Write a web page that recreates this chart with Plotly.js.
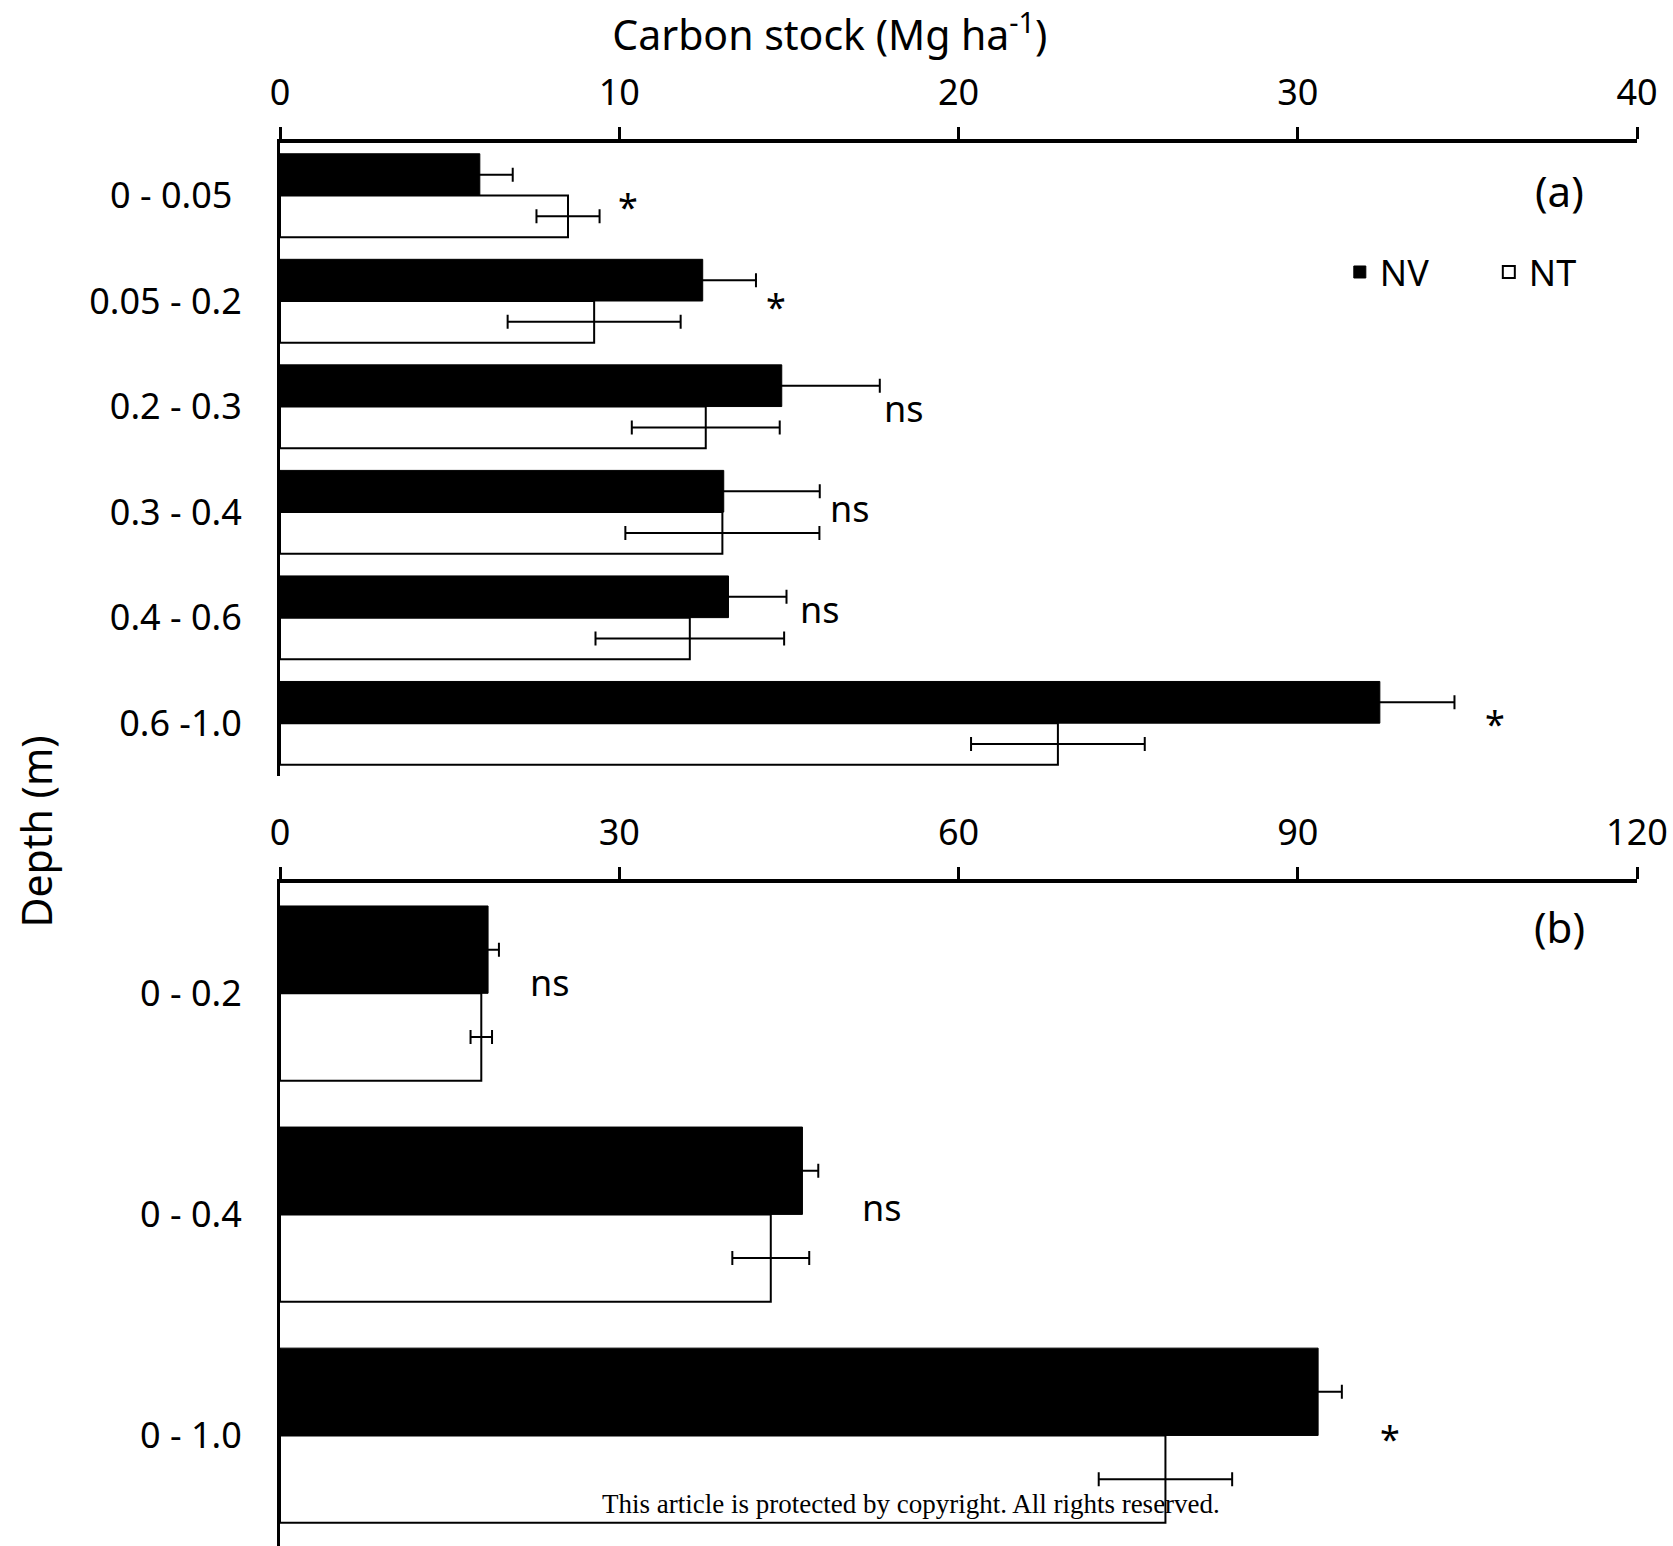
<!DOCTYPE html>
<html>
<head>
<meta charset="utf-8">
<script src="https://cdn.plot.ly/plotly-3.0.1.min.js"></script>
<style>html,body{margin:0;padding:0;background:#fff;}#chart{width:1673px;height:1546px;}</style>
</head>
<body>
<div id="chart"></div>
<script>
// ---- Panel (a): carbon stock by depth layer (Mg ha-1) ----
const depthA = ['0 - 0.05', '0.05 - 0.2', '0.2 - 0.3', '0.3 - 0.4', '0.4 - 0.6', '0.6 -1.0'];
const depthATickText = ['0 - 0.05\u00a0', '0.05 - 0.2', '0.2 - 0.3', '0.3 - 0.4', '0.4 - 0.6', '0.6 -1.0'];
const nvA = [5.89, 12.46, 14.79, 13.08, 13.22, 32.42];
const nvAErr = [0.97, 1.57, 2.89, 2.83, 1.71, 2.2];
const ntA = [8.49, 9.26, 12.55, 13.04, 12.08, 22.93];
const ntAErr = [0.93, 2.55, 2.18, 2.86, 2.78, 2.56];
const sigA = ['*', '*', 'ns', 'ns', 'ns', '*'];
const sigAX = [10.25, 14.61, 18.38, 16.81, 15.93, 35.81];
const sigAY = [0.06, 1.0, 2.02, 2.97, 3.92, 4.96];
const ticksA = [0, 10, 20, 30, 40];

// ---- Panel (b): cumulative carbon stock ----
const depthB = ['0 - 0.2', '0 - 0.4', '0 - 1.0'];
const nvB = [18.4, 46.2, 91.8];
const nvBErr = [0.96, 1.4, 2.1];
const ntB = [17.8, 43.4, 78.3];
const ntBErr = [0.95, 3.4, 5.9];
const sigB = ['ns', 'ns', '*'];
const sigBX = [23.9, 53.2, 98.2];
const sigBY = [-0.05, 0.97, 1.99];
const ticksB = [0, 30, 60, 90, 120];

const FONT = 'Noto Sans, Open Sans, DejaVu Sans, sans-serif';

function barTrace(name, x, y, err, xa, ya, fill, showLegend) {
  return {
    type: 'bar', orientation: 'h', name: name,
    x: x, y: y, xaxis: xa, yaxis: ya,
    marker: {color: fill, line: {color: '#000', width: fill === '#000' ? 1 : 2}},
    error_x: {type: 'data', array: err, visible: true, color: '#000', thickness: 2, width: 7},
    showlegend: showLegend, legendgroup: name, hoverinfo: 'x+y'
  };
}

const data = [
  barTrace('NV', nvA, depthA, nvAErr, 'x', 'y', '#000', true),
  barTrace('NT', ntA, depthA, ntAErr, 'x', 'y', '#fff', true),
  barTrace('NV', nvB, depthB, nvBErr, 'x2', 'y2', '#000', false),
  barTrace('NT', ntB, depthB, ntBErr, 'x2', 'y2', '#fff', false)
];

const axisFont = {family: FONT, size: 36, color: '#000'};

function xAxis(anchor, range, ticks) {
  return {
    anchor: anchor, side: 'top', range: range, tickvals: ticks,
    ticks: 'outside', ticklen: 12, tickwidth: 3, tickcolor: '#000',
    showline: true, linewidth: 4, linecolor: '#000',
    showgrid: false, zeroline: false, tickfont: axisFont, ticklabelstandoff: 7,
    fixedrange: true
  };
}
function yAxis(anchor, domain, cats, n, text) {
  return {
    anchor: anchor, domain: domain, type: 'category',
    categoryorder: 'array', categoryarray: cats,
    tickvals: cats, ticktext: text || cats,
    range: [n - 0.5, -0.5], autorange: false,
    ticks: '', showline: true, linewidth: 3, linecolor: '#000',
    showgrid: false, zeroline: false, tickfont: axisFont, ticklabelstandoff: 28,
    fixedrange: true
  };
}

const annotations = [];
function addSig(labels, xs, ys, xa, ya) {
  labels.forEach(function (t, i) {
    annotations.push({
      text: t, x: xs[i], y: ys[i], xref: xa, yref: ya,
      showarrow: false, xanchor: 'center', yanchor: 'middle',
      yshift: t === '*' ? -5 : 0,
      font: {family: FONT, size: 36, color: '#000'}
    });
  });
}
addSig(sigA, sigAX, sigAY, 'x', 'y');
addSig(sigB, sigBX, sigBY, 'x2', 'y2');

annotations.push({text: '(a)', xref: 'paper', yref: 'paper', x: 0.943, y: 0.877,
  showarrow: false, xanchor: 'center', yanchor: 'middle', font: {family: FONT, size: 42, color: '#000'}});
annotations.push({text: '(b)', xref: 'paper', yref: 'paper', x: 0.943, y: 0.401,
  showarrow: false, xanchor: 'center', yanchor: 'middle', font: {family: FONT, size: 42, color: '#000'}});
annotations.push({text: 'Depth (m)', xref: 'paper', yref: 'paper', x: -0.18, y: 0.462,
  textangle: -90, showarrow: false, xanchor: 'center', yanchor: 'middle',
  font: {family: FONT, size: 41, color: '#000'}});
annotations.push({text: 'This article is protected by copyright. All rights reserved.',
  xref: 'paper', yref: 'paper', x: 0.465, y: 0.027, showarrow: false,
  xanchor: 'center', yanchor: 'middle',
  font: {family: 'Liberation Serif, Times New Roman, serif', size: 27, color: '#000'}});

const layout = {
  width: 1673, height: 1546,
  margin: {l: 280, r: 36, t: 0, b: 0, pad: 0},
  paper_bgcolor: '#fff', plot_bgcolor: 'rgba(0,0,0,0)',
  font: {family: FONT, color: '#000'},
  title: {text: 'Carbon stock (Mg ha<sup>-1</sup>)', font: {family: FONT, size: 41, color: '#000'},
    xref: 'container', yref: 'container', x: 0.496, y: 0.977, xanchor: 'center', yanchor: 'middle'},
  barmode: 'group', bargap: 0.21, bargroupgap: 0,
  xaxis: xAxis('y', [0, 40], ticksA),
  yaxis: yAxis('x', [0.4981, 0.9077], depthA, depthA.length, depthATickText),
  xaxis2: xAxis('y2', [0, 120], ticksB),
  yaxis2: yAxis('x2', [0, 0.4290], depthB, depthB.length),
  showlegend: true,
  legend: {orientation: 'h', x: 0.781, y: 0.824, xanchor: 'left', yanchor: 'middle',
    xref: 'paper', yref: 'paper', font: {family: FONT, size: 36, color: '#000'},
    bgcolor: 'rgba(0,0,0,0)', borderwidth: 0, entrywidth: 104, entrywidthmode: 'pixels',
    traceorder: 'normal'},
  annotations: annotations
};

Plotly.newPlot('chart', data, layout, {staticPlot: true, displayModeBar: false});
</script>
</body>
</html>
